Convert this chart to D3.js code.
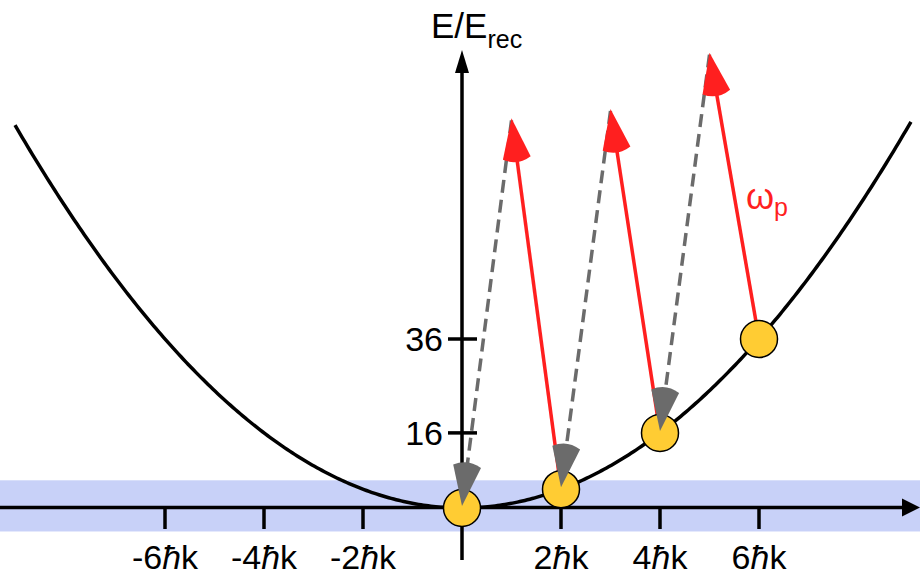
<!DOCTYPE html>
<html>
<head>
<meta charset="utf-8">
<script src="https://cdn.jsdelivr.net/npm/d3@7"></script>
<style>
  body { margin: 0; background: #fff; }
  svg { display: block; font-family: "Liberation Sans", Arial, sans-serif; }
</style>
</head>
<body>
<svg id="chart" width="920" height="578"></svg>
<script>
// Data
var xTicks = [-6, -4, -2, 2, 4, 6];            // momentum ticks, in units of hbar k
var yTicks = [16, 36];                          // energy ticks, in E_rec
var atomMomenta = [0, 2, 4, 6];                 // populated momentum states
var pumpFrom = [2, 4, 6];                       // red arrows start here
var pumpTopMomentum = [1, 3, 5];                // red arrows end at these momenta
var pumpTopEnergy = [83, 85, 97];               // ... and these energies
var decayTo = [0, 2, 4];                        // dashed arrows land here
var curveExtent = [-9.03, 9.1];                 // momentum span of the dispersion curve
var bandEnergy = [-5, 5.9];                     // shaded band, in E_rec

var energy = function(p) { return p * p; };

var svg = d3.select("#chart");

// Scales
var x = d3.scaleLinear().domain([0, 6]).range([462, 759]);
var y = d3.scaleLinear().domain([0, 36]).range([508, 339]);

// Shaded band
svg.append("rect")
  .attr("x", 0).attr("width", 920)
  .attr("y", y(bandEnergy[1]))
  .attr("height", y(bandEnergy[0]) - y(bandEnergy[1]))
  .attr("fill", "#c8d1f8");

// Axes
var axisY = 507.5;
svg.append("line")
  .attr("x1", 0).attr("x2", 902).attr("y1", axisY).attr("y2", axisY)
  .attr("stroke", "#000").attr("stroke-width", 3.5);
svg.append("path")
  .attr("d", "M920," + axisY + "L902," + (axisY - 9) + "L902," + (axisY + 9) + "Z")
  .attr("fill", "#000");

svg.append("line")
  .attr("x1", x(0)).attr("x2", x(0)).attr("y1", 560).attr("y2", 68)
  .attr("stroke", "#000").attr("stroke-width", 3.5);
svg.append("path")
  .attr("d", "M" + x(0) + ",50L" + (x(0) - 7) + ",73L" + (x(0) + 7) + ",73Z")
  .attr("fill", "#000");

// Axis label
var yLabel = svg.append("text")
  .attr("x", 431).attr("y", 38)
  .attr("font-size", 35).attr("fill", "#000");
yLabel.append("tspan").text("E/E");
yLabel.append("tspan").attr("font-size", 25).attr("dy", 10).text("rec");

// X ticks
svg.selectAll("line.xtick").data(xTicks).enter().append("line")
  .attr("class", "xtick")
  .attr("x1", function(d) { return x(d); }).attr("x2", function(d) { return x(d); })
  .attr("y1", axisY).attr("y2", 529)
  .attr("stroke", "#000").attr("stroke-width", 3.5);

var xLabels = svg.selectAll("text.xlabel").data(xTicks).enter().append("text")
  .attr("class", "xlabel")
  .attr("x", function(d) { return x(d); })
  .attr("y", 569)
  .attr("text-anchor", "middle")
  .attr("font-size", 34);
xLabels.append("tspan").text(function(d) { return d; });
xLabels.append("tspan").attr("font-style", "italic").text("\u0127");
xLabels.append("tspan").text("k");

// Y ticks
svg.selectAll("line.ytick").data(yTicks).enter().append("line")
  .attr("class", "ytick")
  .attr("x1", x(0) - 14).attr("x2", x(0) + 15)
  .attr("y1", function(d) { return y(d); }).attr("y2", function(d) { return y(d); })
  .attr("stroke", "#000").attr("stroke-width", 3.5);
svg.selectAll("text.ylabel").data(yTicks).enter().append("text")
  .attr("class", "ylabel")
  .attr("x", 443)
  .attr("y", function(d) { return y(d) + 12; })
  .attr("text-anchor", "end")
  .attr("font-size", 34)
  .text(function(d) { return d; });

// Dispersion curve
var curvePts = d3.range(curveExtent[0], curveExtent[1] + 0.001, 0.05).map(function(p) { return [p, energy(p)]; });
svg.append("path")
  .datum(curvePts)
  .attr("d", d3.line().x(function(d) { return x(d[0]); }).y(function(d) { return y(d[1]); }))
  .attr("fill", "none").attr("stroke", "#000").attr("stroke-width", 3.5);

// Arrow head with a rounded base
var head = function(g, x1, y1, x2, y2, color) {
  var len = 40, half = 14;
  var dx = x2 - x1, dy = y2 - y1, L = Math.sqrt(dx * dx + dy * dy);
  var ux = dx / L, uy = dy / L, nx = -uy, ny = ux;
  var bx = x2 - ux * len, by = y2 - uy * len;
  g.append("path")
    .attr("d", "M" + x2 + "," + y2 + "L" + (bx + nx * half) + "," + (by + ny * half) +
      "Q" + (bx - ux * 8) + "," + (by - uy * 8) + " " + (bx - nx * half) + "," + (by - ny * half) + "Z")
    .attr("fill", color);
};

// Arrow shaft, stopping inside the head
var shaft = function(g, x1, y1, x2, y2, color, dash) {
  var dx = x2 - x1, dy = y2 - y1, L = Math.sqrt(dx * dx + dy * dy);
  var ux = dx / L, uy = dy / L;
  g.append("line")
    .attr("x1", x1).attr("y1", y1).attr("x2", x2 - ux * 36).attr("y2", y2 - uy * 36)
    .attr("stroke", color).attr("stroke-width", 3.5)
    .attr("stroke-dasharray", dash || null);
};

// Red pump shafts (behind atoms)
var redG = svg.append("g");
pumpFrom.forEach(function(p, i) {
  shaft(redG, x(p), y(energy(p)), x(pumpTopMomentum[i]), y(pumpTopEnergy[i]), "#ff1f1f");
});

// Atoms
svg.selectAll("circle.atom").data(atomMomenta).enter().append("circle")
  .attr("class", "atom")
  .attr("cx", function(d) { return x(d); })
  .attr("cy", function(d) { return y(energy(d)); })
  .attr("r", 18.5)
  .attr("fill", "#ffcc33").attr("stroke", "#000").attr("stroke-width", 1.5);

// Gray dashed decay arrows
var grayG = svg.append("g");
decayTo.forEach(function(p, i) {
  var x1 = x(pumpTopMomentum[i]), y1 = y(pumpTopEnergy[i]) + 2;
  var x2 = x(p), y2 = y(energy(p)) - 2;
  shaft(grayG, x1, y1, x2, y2, "#6b6b6b", "13,7");
  head(grayG, x1, y1, x2, y2, "#6b6b6b");
});

// Red heads on top of the dashed lines
var redHeads = svg.append("g");
pumpFrom.forEach(function(p, i) {
  head(redHeads, x(p), y(energy(p)), x(pumpTopMomentum[i]), y(pumpTopEnergy[i]), "#ff1f1f");
});

// Pump label
var wp = svg.append("text")
  .attr("x", 746).attr("y", 209)
  .attr("font-size", 36).attr("fill", "#ff1f1f");
wp.append("tspan").text("\u03c9");
wp.append("tspan").attr("font-size", 25).attr("dy", 7).text("p");
</script>
</body>
</html>
